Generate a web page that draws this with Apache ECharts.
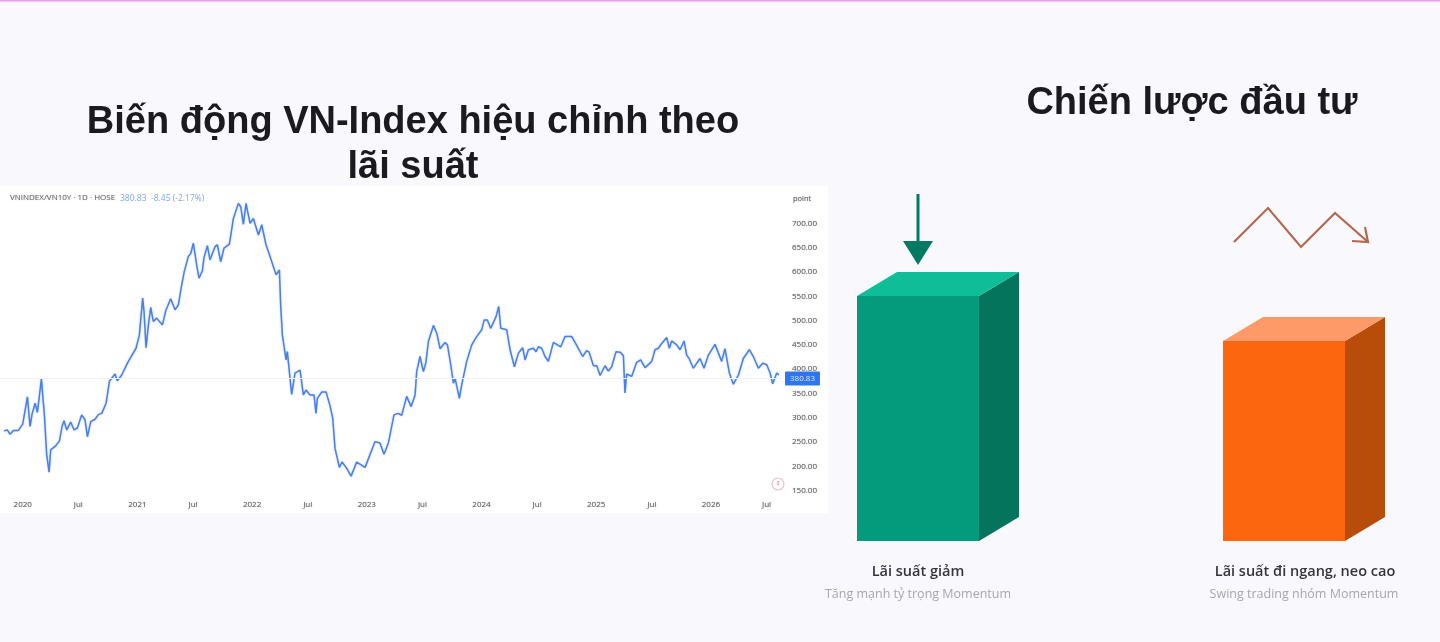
<!DOCTYPE html>
<html><head><meta charset="utf-8">
<style>html,body{margin:0;padding:0;background:#f8f8fd;overflow:hidden}#c{width:1440px;height:642px}</style>
<script src="https://cdn.jsdelivr.net/npm/echarts@6/dist/echarts.min.js"></script>
</head><body><div id="c"></div>
<script>
const dateYears = [2019.837,2019.866,2019.890,2019.919,2019.962,2020.000,2020.041,2020.064,2020.081,2020.108,2020.128,2020.145,2020.163,2020.189,2020.209,2020.230,2020.244,2020.282,2020.320,2020.343,2020.360,2020.384,2020.418,2020.448,2020.477,2020.514,2020.543,2020.564,2020.593,2020.631,2020.660,2020.689,2020.727,2020.756,2020.805,2020.825,2020.863,2020.921,2020.988,
2021.017,2021.046,2021.058,2021.075,2021.096,2021.116,2021.139,2021.168,2021.218,2021.247,2021.290,2021.328,2021.357,2021.386,2021.407,2021.444,2021.465,2021.488,2021.517,2021.537,2021.566,2021.581,2021.610,2021.633,2021.677,2021.697,2021.726,2021.755,2021.802,2021.837,2021.880,2021.901,2021.924,2021.947,2021.982,
2022.011,2022.055,2022.084,2022.121,2022.156,2022.209,2022.238,2022.249,2022.264,2022.296,2022.307,2022.345,2022.374,2022.418,2022.447,2022.470,2022.505,2022.540,2022.557,2022.569,2022.607,2022.645,2022.679,2022.703,2022.723,2022.761,2022.784,2022.825,2022.863,2022.912,2022.985,
2023.072,2023.115,2023.150,2023.188,2023.237,2023.275,2023.304,2023.348,2023.386,2023.421,2023.435,2023.464,2023.493,2023.514,2023.537,2023.581,2023.610,2023.639,2023.682,2023.703,2023.732,2023.755,2023.770,2023.807,2023.828,2023.871,2023.915,2023.958,
2024.002,2024.023,2024.051,2024.080,2024.127,2024.150,2024.168,2024.220,2024.249,2024.263,2024.287,2024.322,2024.359,2024.380,2024.409,2024.452,2024.476,2024.496,2024.525,2024.554,2024.583,2024.627,2024.691,2024.728,2024.787,2024.830,2024.882,2024.917,2024.938,2024.976,
2025.005,2025.034,2025.077,2025.106,2025.135,2025.173,2025.208,2025.237,2025.251,2025.266,2025.309,2025.353,2025.388,2025.426,2025.484,2025.513,2025.542,2025.571,2025.615,2025.638,2025.658,2025.702,2025.731,2025.766,2025.789,2025.812,2025.847,2025.905,2025.940,2025.978,
2026.036,2026.094,2026.123,2026.161,2026.196,2026.240,2026.283,2026.335,2026.370,2026.414,2026.452,2026.487,2026.516,2026.539,2026.574,2026.594];
const indexValues = [273,275,266,274,274,287,343,282,307,330,311,313,380,306,224,188,234,241,252,282,294,275,291,275,279,306,296,261,292,297,307,309,330,375,390,376,388,416,443,
470,546,518,444,491,527,498,505,491,520,545,522,532,573,599,632,638,659,614,587,602,630,654,625,652,656,621,649,657,710,741,734,698,741,700,
710,676,697,656,632,594,604,532,470,419,436,348,392,398,347,357,347,347,309,340,353,353,325,299,237,198,209,196,180,209,198,
251,248,225,248,306,309,305,344,323,347,395,426,395,412,457,490,474,442,455,450,409,371,381,340,368,416,450,467,
481,501,501,484,508,529,484,481,440,443,405,433,444,419,440,443,436,446,443,426,416,455,446,467,467,449,426,438,435,407,
407,387,407,396,405,436,435,428,351,390,385,414,419,403,416,440,443,453,465,443,458,450,440,458,429,421,402,422,402,429,
451,416,442,392,369,388,422,440,426,402,412,409,392,370,392,388];
const lastValue = 380.83;
const priceTicks = [150,200,250,300,350,400,450,500,550,600,650,700];
const yearTicks = [2020,2020.485,2021,2021.485,2022,2022.485,2023,2023.485,2024,2024.485,2025,2025.485,2026,2026.485];
const barCategories = ['Lãi suất giảm','Lãi suất đi ngang, neo cao'];
const barNotes = ['Tăng mạnh tỷ trọng Momentum','Swing trading nhóm Momentum'];
const barHeights = [245,200];
const barPositions = [918,1284];
const headerLabel = 'VNINDEX/VN10Y · 1D · HOSE';
const headerQuote = '380.83  -8.45 (-2.17%)';

const palettes = [
  {front:'#049b7d',side:'#04745c',top:'#0fbd99'},
  {front:'#fb660f',side:'#b84c09',top:'#fd9a68'}
];
const FONT = '"Liberation Sans",Arial,sans-serif';
const UI = '"Open Sans","Noto Sans",sans-serif';

const chart = echarts.init(document.getElementById('c'), null, {renderer:'canvas'});
const tinted = {textShadowColor:'rgba(90,90,90,0.35)',textShadowBlur:1.5};

function cuboid(params, api){
  const x = api.value(0), h = api.value(1);
  const bl = api.coord([x,0]), tl = api.coord([x,h]);
  const w = 122, dx = 40, dy = 24;
  const L = bl[0]-w/2, R = bl[0]+w/2, T = tl[1], B = bl[1];
  const p = palettes[params.dataIndex];
  return {type:'group',children:[
    {type:'rect',shape:{x:L,y:T,width:w,height:B-T},style:{fill:p.front}},
    {type:'polygon',shape:{points:[[R,T],[R+dx,T-dy],[R+dx,B-dy],[R,B]]},style:{fill:p.side}},
    {type:'polygon',shape:{points:[[L,T],[L+dx,T-dy],[R+dx,T-dy],[R,T]]},style:{fill:p.top}}
  ]};
}

chart.setOption({
  animation:false,
  backgroundColor:'#f8f8fd',
  title:[
    {text:'Biến động VN-Index hiệu chỉnh theo\nlãi suất',left:408,top:95,textAlign:'center',
      textStyle:{fontFamily:FONT,fontSize:38,fontWeight:'bold',color:'#1b1b1f',lineHeight:45}},
    {text:'Chiến lược đầu tư',left:1187,top:80,textAlign:'center',
      textStyle:{fontFamily:FONT,fontSize:38,fontWeight:'bold',color:'#1b1b1f'}},
    {text:headerLabel,left:5,top:189,textStyle:{fontFamily:UI,fontSize:8,fontWeight:'normal',color:'#666',...tinted}},
    {text:headerQuote,left:115,top:189,textStyle:{fontFamily:UI,fontSize:8.5,fontWeight:'normal',color:'#7fa6ea'}},
    {text:barCategories[0],left:913,top:559,textAlign:'center',textStyle:{fontFamily:UI,fontSize:14.5,fontWeight:600,color:'#35353a'}},
    {text:barNotes[0],left:913,top:583,textAlign:'center',textStyle:{fontFamily:UI,fontSize:12.5,fontWeight:'normal',color:'#a6a6ad'}},
    {text:barCategories[1],left:1300,top:559,textAlign:'center',textStyle:{fontFamily:UI,fontSize:14.5,fontWeight:600,color:'#35353a'}},
    {text:barNotes[1],left:1299,top:583,textAlign:'center',textStyle:{fontFamily:UI,fontSize:12.5,fontWeight:'normal',color:'#a6a6ad'}}
  ],
  grid:[
    {left:0,top:199,width:782,height:291.7,containLabel:false},
    {left:820,top:241,width:620,height:300}
  ],
  xAxis:[
    {type:'value',gridIndex:0,min:2019.802,max:2026.620,splitLine:{show:false},axisLine:{show:false},axisTick:{show:false},
      axisLabel:{customValues:yearTicks,margin:10,fontFamily:UI,fontSize:8,color:'#555',...tinted,
        formatter:v=>Number.isInteger(v)?String(v):'Jul'}},
    {type:'value',gridIndex:1,min:820,max:1440,show:false}
  ],
  yAxis:[
    {type:'value',gridIndex:0,position:'right',min:150,max:750,
      name:'point',nameLocation:'end',nameGap:0,
      nameTextStyle:{fontFamily:UI,fontSize:7.5,color:'#555',align:'left',verticalAlign:'middle',padding:[0,0,2,11],...tinted},
      splitLine:{show:false},axisLine:{show:false},axisTick:{show:false},
      axisLabel:{customValues:priceTicks,margin:10,fontFamily:UI,fontSize:8,color:'#555',...tinted,
        formatter:v=>v.toFixed(2)}},
    {type:'value',gridIndex:1,min:0,max:300,show:false}
  ],
  series:[
    {type:'line',xAxisIndex:0,yAxisIndex:0,showSymbol:false,symbol:'none',z:3,
      data:dateYears.map((y,i)=>[y,indexValues[i]]),
      lineStyle:{color:'#4a80e6',width:1.5,shadowColor:'rgba(74,128,230,0.45)',shadowBlur:2},
      markLine:{silent:true,symbol:'none',animation:false,
        lineStyle:{color:'#f1f1f1',type:'solid',width:1},
        label:{show:true,position:'end',distance:3,formatter:p=>p.value.toFixed(2),
          backgroundColor:'#2f74f0',color:'#dfe9ff',fontFamily:UI,fontSize:8,padding:[3,5,3,5],borderRadius:1},
        data:[{yAxis:lastValue}]}
    },
    {type:'custom',xAxisIndex:1,yAxisIndex:1,renderItem:cuboid,z:2,
      data:barPositions.map((x,i)=>[x,barHeights[i]])}
  ],
  graphic:[
    {type:'rect',z:-10,silent:true,shape:{x:0,y:186,width:828,height:327},style:{fill:'#ffffff'}},
    {type:'rect',z:-10,silent:true,shape:{x:0,y:0,width:1440,height:1.5},style:{fill:'#ee9cee'}},
    {type:'rect',z:5,silent:true,shape:{x:916.5,y:194,width:3,height:50},style:{fill:'#057a62'}},
    {type:'polygon',z:5,silent:true,shape:{points:[[903,241],[933,241],[918,265]]},style:{fill:'#057a62'}},
    {type:'polyline',z:5,silent:true,shape:{points:[[1234,242],[1268,208],[1301,247],[1335,213],[1368,242]]},
      style:{fill:'none',stroke:'#b4684d',lineWidth:2.2}},
    {type:'polyline',z:5,silent:true,shape:{points:[[1352,241],[1368,242],[1365,227]]},
      style:{fill:'none',stroke:'#b4684d',lineWidth:2.2}},
    {type:'circle',z:5,silent:true,shape:{cx:778,cy:484,r:6},style:{fill:'#fff',stroke:'#ecc0d2',lineWidth:1.2}},
    {type:'text',z:6,silent:true,style:{x:778,y:484,text:'₫',fill:'#c98aa8',fontSize:7,align:'center',verticalAlign:'middle'}}
  ]
});
</script></body></html>
